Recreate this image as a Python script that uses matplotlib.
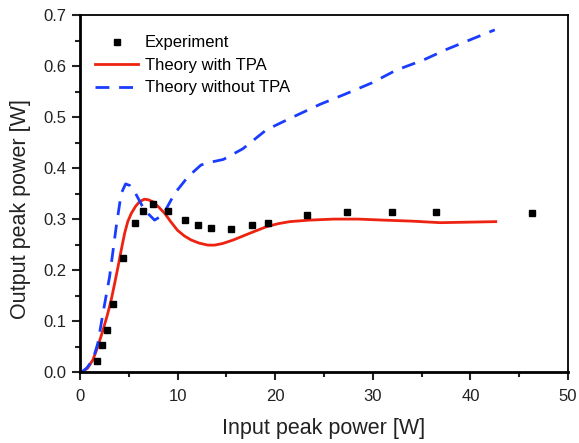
import matplotlib
matplotlib.use('Agg')
import matplotlib.pyplot as plt
from matplotlib.ticker import MultipleLocator, FormatStrFormatter

plt.rcParams['font.family'] = ['Liberation Sans', 'DejaVu Sans']

# experiment points
exp_x = [1.77, 2.29, 2.8, 3.42, 4.4, 5.6, 6.5, 7.5, 9.0, 10.8, 12.1, 13.4,
         15.5, 17.6, 19.3, 23.3, 27.4, 32.0, 36.5, 46.3]
exp_y = [0.022, 0.054, 0.083, 0.133, 0.223, 0.293, 0.316, 0.329, 0.316, 0.299, 0.288, 0.282,
         0.281, 0.288, 0.293, 0.308, 0.314, 0.314, 0.314, 0.311]

# theory with TPA
tpa_x = [0.0, 0.3, 0.8, 1.33, 1.8, 2.36, 2.8, 3.2, 3.55, 3.9, 4.25, 4.58, 4.9, 5.26,
         5.7, 6.1, 6.6, 7.0, 7.48, 8.1, 8.7, 9.3, 10.0, 10.7, 11.4, 12.2, 13.1, 13.8,
         14.6, 15.7, 16.6, 17.5, 18.3, 19.1, 20.3, 21.5, 23.5, 26.0, 28.5, 31.1, 34.0,
         36.9, 39.8, 42.6]
tpa_y = [0.0, 0.001, 0.008, 0.024, 0.048, 0.082, 0.111, 0.141, 0.173, 0.206, 0.241, 0.272,
         0.295, 0.311, 0.325, 0.334, 0.339, 0.338, 0.334, 0.323, 0.311, 0.295, 0.278, 0.267,
         0.259, 0.253, 0.249, 0.249, 0.252, 0.259, 0.266, 0.273, 0.279, 0.285, 0.291, 0.295,
         0.298, 0.300, 0.300, 0.298, 0.296, 0.293, 0.294, 0.295]

# theory without TPA
notpa_x = [0.0, 0.3, 0.7, 1.16, 1.5, 1.84, 2.36, 3.04, 3.72, 4.23, 4.68, 5.1, 5.6, 6.6,
           7.65, 8.5, 9.7, 11.07, 12.4, 13.5, 14.7, 16.7, 19.1, 21.7, 24.6, 27.3, 29.9,
           32.4, 35.2, 37.6, 40.3, 42.5]
notpa_y = [0.0, 0.002, 0.008, 0.02, 0.035, 0.057, 0.115, 0.187, 0.285, 0.35, 0.369, 0.366,
           0.354, 0.318, 0.298, 0.308, 0.350, 0.383, 0.406, 0.412, 0.417, 0.438, 0.475,
           0.499, 0.525, 0.546, 0.567, 0.592, 0.612, 0.633, 0.654, 0.671]

fig = plt.figure(figsize=(5.79, 4.43), dpi=100)
ax = fig.add_axes([0.138, 0.160, 0.843, 0.806])

ax.plot(exp_x, exp_y, 's', color='black', markersize=5, label='Experiment', zorder=3)
ax.plot(tpa_x, tpa_y, '-', color='#ee2211', linewidth=2, label='Theory with TPA')
ax.plot(notpa_x, notpa_y, '--', color='#1a3cff', linewidth=2, dashes=(5, 3.5),
        label='Theory without TPA')

ax.set_xlim(0, 50)
ax.set_ylim(0, 0.7)
ax.xaxis.set_major_locator(MultipleLocator(10))
ax.xaxis.set_minor_locator(MultipleLocator(5))
ax.yaxis.set_major_locator(MultipleLocator(0.1))
ax.yaxis.set_minor_locator(MultipleLocator(0.05))
ax.yaxis.set_major_formatter(FormatStrFormatter('%.1f'))
ax.tick_params(which='both', direction='out', top=False, right=False, width=1.5,
               labelsize=12, colors='#222222')
ax.tick_params(which='major', length=6)
ax.tick_params(which='minor', length=3.5)
ax.tick_params(axis='x', pad=6)
ax.tick_params(axis='y', pad=4)
ax.spines['left'].set_linewidth(2)
ax.spines['bottom'].set_linewidth(2)
ax.spines['top'].set_linewidth(1.3)
ax.spines['right'].set_linewidth(1.3)

ax.set_xlabel('Input peak power [W]', fontsize=15.5, color='#222222')
ax.set_ylabel('Output peak power [W]', fontsize=15.5, color='#222222')
ax.xaxis.set_label_coords(0.5, -0.128)
ax.yaxis.set_label_coords(-0.100, 0.457)

ax.legend(loc='upper left', frameon=False, fontsize=12, handlelength=2.6,
          handletextpad=0.4, labelspacing=0.45, borderaxespad=0.5,
          bbox_to_anchor=(0.0, 0.985))

fig.savefig('out.png', dpi=100)
